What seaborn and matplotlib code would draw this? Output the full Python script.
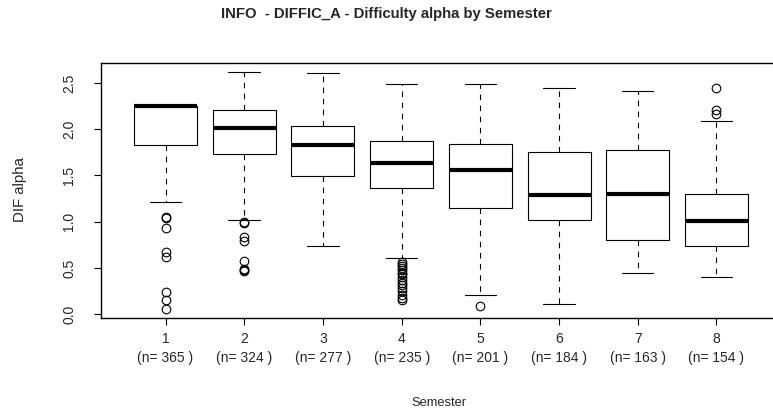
import numpy as np
import pandas as pd
import seaborn as sns
import matplotlib
matplotlib.use("Agg")
import matplotlib.pyplot as plt

# ---- data ----
semesters = ["1", "2", "3", "4", "5", "6", "7", "8"]
counts = [365, 324, 277, 235, 201, 184, 163, 154]
whisker_low = [1.21, 1.02, 0.74, 0.61, 0.21, 0.11, 0.45, 0.40]
q1 = [1.83, 1.73, 1.49, 1.36, 1.15, 1.02, 0.80, 0.74]
median = [2.25, 2.01, 1.83, 1.63, 1.555, 1.285, 1.30, 1.01]
q3 = [2.25, 2.21, 2.03, 1.875, 1.845, 1.75, 1.775, 1.30]
whisker_high = [2.25, 2.62, 2.61, 2.485, 2.485, 2.45, 2.415, 2.085]
outliers = [
    [1.05, 1.04, 0.93, 0.67, 0.62, 0.24, 0.15, 0.06],
    [1.00, 0.99, 0.83, 0.79, 0.58, 0.49, 0.48, 0.47],
    [],
    [0.56, 0.54, 0.52, 0.50, 0.48, 0.45, 0.43, 0.40, 0.37, 0.34, 0.31,
     0.28, 0.25, 0.21, 0.18, 0.15],
    [0.09],
    [],
    [],
    [2.445, 2.21, 2.17],
]
yticks = [0.0, 0.5, 1.0, 1.5, 2.0, 2.5]
ytick_labels = ["0.0", "0.5", "1.0", "1.5", "2.0", "2.5"]
title = "INFO  - DIFFIC_A - Difficulty alpha by Semester"
xlabel = "Semester"
ylabel = "DIF alpha"

# ---- style ----
sns.set_style("white")
plt.rcParams["font.family"] = ["Liberation Sans", "DejaVu Sans"]
tick_fs = 10.0

stats = []
for i in range(len(semesters)):
    stats.append(dict(whislo=whisker_low[i], q1=q1[i], med=median[i],
                      q3=q3[i], whishi=whisker_high[i],
                      fliers=np.array(outliers[i]), label=semesters[i]))

fig = plt.figure(figsize=(7.73, 4.17), dpi=100)
W, H = 773, 417
left, right, top, bottom = 101, 781, 62.7, 318.3
ax = fig.add_axes([left / W, 1 - bottom / H, (right - left) / W, (bottom - top) / H])

positions = np.arange(1, len(semesters) + 1)
ax.bxp(stats, positions=positions, widths=0.8, patch_artist=True,
       boxprops=dict(facecolor="white", edgecolor="black", linewidth=0.8),
       medianprops=dict(color="black", linewidth=3.0, solid_capstyle="butt"),
       whiskerprops=dict(color="black", linewidth=0.8, linestyle=(0, (5, 5))),
       capprops=dict(color="black", linewidth=0.8),
       capwidths=0.4,
       flierprops=dict(marker="o", markerfacecolor="none", markeredgecolor="black",
                       markersize=6.2, markeredgewidth=0.8, linestyle="none"))

ax.set_xlim(0.18, 8.82)
ax.set_ylim(-0.045, 2.72)
for s in ax.spines.values():
    s.set_visible(True)
    s.set_color("black")
    s.set_linewidth(1.0)

ax.set_xticks(positions)
ax.set_xticklabels([f"{s}\n(n= {n} )" for s, n in zip(semesters, counts)],
                   fontsize=tick_fs, linespacing=1.45)
ax.set_yticks(yticks)
ax.set_yticklabels(ytick_labels, fontsize=tick_fs, rotation=90, va="center")
ax.tick_params(axis="both", direction="out", length=5, width=0.8, color="black",
               bottom=True, left=True)
ax.tick_params(axis="x", pad=5)
ax.tick_params(axis="y", pad=13)

fig.text(20 / W, 1 - 190 / H, ylabel, rotation=90, ha="center",
         va="center", fontsize=10.8)
fig.text(439 / W, 1 - 403 / H, xlabel, ha="center", va="center", fontsize=9.3)
fig.text(0.5, 1 - 14 / H, title, ha="center", va="center", fontsize=10.7,
         fontweight="bold")

fig.savefig("out.png", dpi=100)
